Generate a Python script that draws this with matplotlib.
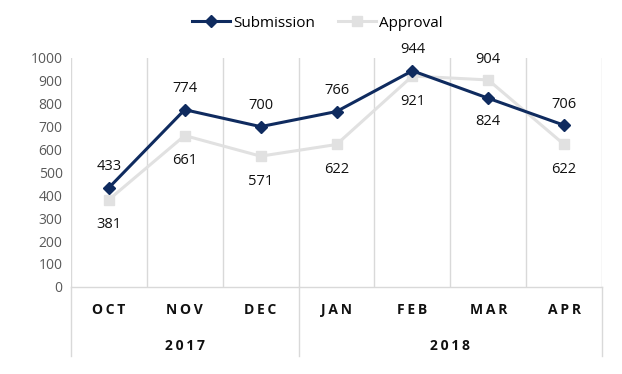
import matplotlib.pyplot as plt
from matplotlib.lines import Line2D

months = ["OCT", "NOV", "DEC", "JAN", "FEB", "MAR", "APR"]
years = ["2017", "2018"]
year_spans = [3, 4]
submission = [433, 774, 700, 766, 944, 824, 706]
approval = [381, 661, 571, 622, 921, 904, 622]
# label placement: True = above the marker
sub_above = [True, True, True, True, True, False, True]
app_above = [False, False, False, False, False, True, False]

NAVY = "#0f2b5f"
GRAY = "#e1e1e1"
GRID = "#d9d9d9"

plt.rcParams["font.family"] = ["Open Sans", "DejaVu Sans"]

fig = plt.figure(figsize=(6.22, 3.74), dpi=100)
ax = fig.add_axes([0.114, 0.233, 0.854, 0.612])

x = list(range(len(months)))
ax.plot(x, submission, color=NAVY, lw=2.2, marker="D", ms=6.5, zorder=3,
        label="Submission")
ax.plot(x, approval, color=GRAY, lw=2.2, marker="s", ms=7, zorder=2,
        label="Approval")

for i in x:
    dy = 15 if sub_above[i] else -17
    ax.annotate(str(submission[i]), (i, submission[i]), xytext=(0, dy),
                textcoords="offset points", ha="center", va="center",
                fontsize=10.5, color="#111111")
    dy = 15 if app_above[i] else -18
    ax.annotate(str(approval[i]), (i, approval[i]), xytext=(0, dy),
                textcoords="offset points", ha="center", va="center",
                fontsize=10.5, color="#111111")

ax.set_xlim(-0.5, len(months) - 0.5)
ax.set_ylim(0, 1000)
ax.set_yticks(range(0, 1001, 100))
ax.tick_params(axis="y", length=0, labelsize=10, labelcolor="#595959", pad=6)
ax.set_xticks([])

for s in ["top", "right", "left"]:
    ax.spines[s].set_visible(False)
ax.spines["bottom"].set_color(GRID)
ax.spines["bottom"].set_linewidth(1)

# category separators
for b in range(len(months) + 1):
    ax.axvline(b - 0.5, color=GRID, lw=1, zorder=0)

# month labels
for i, m in enumerate(months):
    ax.text(i, -100, "\u2009".join(m), ha="center", va="center",
            fontsize=10, fontweight="bold", color="#111111", clip_on=False)

# year group labels and separators below axis
start = 0
edges = [start]
for yr, n in zip(years, year_spans):
    ax.text(start + (n - 1) / 2, -260, "\u2009".join(yr), ha="center",
            va="center", fontsize=10, fontweight="bold", color="#111111",
            clip_on=False)
    start += n
    edges.append(start)
for e in edges:
    ax.add_line(Line2D([e - 0.5, e - 0.5], [0, -300], color=GRID, lw=1,
                       clip_on=False))

fig.legend(*ax.get_legend_handles_labels(), loc="center",
           bbox_to_anchor=(0.51, 0.938), ncol=2, frameon=False, fontsize=11,
           handlelength=2.5, columnspacing=1.5, handletextpad=0.2)

fig.savefig("out.png", dpi=100)
